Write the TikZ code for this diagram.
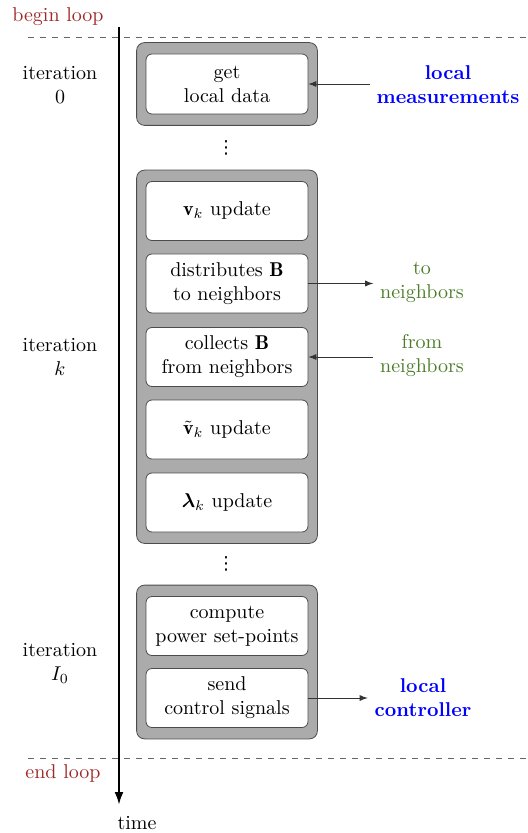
\documentclass[tikz,border=0pt]{standalone}
\usepackage{amsmath}
\usepackage{amssymb}
\usepackage{bm}
\usepackage{fontspec}
\newfontfamily\symfont{DejaVu Sans}
\usetikzlibrary{calc}
\usetikzlibrary{fit}
\usetikzlibrary{backgrounds}
\usetikzlibrary{arrows.meta}
\tikzset{>=latex}
\definecolor{loopred}{RGB}{160,40,40}
\definecolor{nbgreen}{RGB}{75,125,40}
\tikzset{task/.style = {shape=rectangle,rounded corners=3pt,draw=black!70,fill=white,minimum width=81pt,minimum height=29.5pt,align=center,inner sep=1pt}}
\tikzset{phase/.style = {shape=rectangle,rounded corners=4pt,draw=black!70,fill=black!33,inner xsep=4.5pt,inner ysep=5.5pt}}
\tikzset{iter/.style = {align=center}}
\tikzset{ext/.style = {align=center,text=blue,font=\bfseries}}
\tikzset{nb/.style = {align=center,text=nbgreen}}
\tikzset{gap/.style = {font=\symfont\small,inner sep=0pt}}
\tikzset{link/.style = {->,> = latex,black!80}}

\begin{document}
\begin{tikzpicture}[x=0.5pt,y=-0.5pt]
            \useasboundingbox (0,0) rectangle (528,833);

            % Time axis and loop limits
            \coordinate (ttop) at (119,27);
            \coordinate (tbot) at (119,805);
            \node (time) at (137,823) {time};
            \draw[line width=1.2pt,-{Latex[length=6.5pt,width=4.5pt]}] (ttop) -- (tbot);

            \node[text=loopred] (beginl) at (58,17) {begin loop};
            \node[text=loopred] (endl) at (63,773) {end loop};
            \coordinate (d0l) at (28,37);
            \coordinate (d0r) at (528,37);
            \coordinate (d1l) at (28,758);
            \coordinate (d1r) at (528,758);
            \draw[dashed,black!60] (d0l) -- (d0r);
            \draw[dashed,black!60] (d1l) -- (d1r);

            % Iterations
            \node[iter] (it0) at (60,85) {iteration\\$0$};
            \node[iter] (itk) at (60,357) {iteration\\$k$};
            \node[iter] (itI) at (60,663) {iteration\\$I_0$};

            % Tasks
            \node[task,minimum height=30pt] (ld) at (227,84) {get\\local data};
            \node[gap] (dots0) at (226,148) {⋮};

            \node[task] (vup) at (227,211) {$\mathbf{v}_k$ update};
            \node[task] (dist) at (227,283.5) {distributes $\mathbf{B}$\\to neighbors};
            \node[task] (coll) at (227,357) {collects $\mathbf{B}$\\from neighbors};
            \node[task] (vtup) at (227,429.5) {$\tilde{\mathbf{v}}_k$ update};
            \node[task] (lup) at (227,502.5) {$\bm{\lambda}_k$ update};
            \node[gap] (dots1) at (226,564) {⋮};

            \node[task] (comp) at (227,626) {compute\\power set-points};
            \node[task] (send) at (227,698) {send\\control signals};

            % Phases
            \begin{scope}[on background layer]
                \node[phase,fit=(ld)] (p0) {};
                \node[phase,fit=(vup) (lup)] (pk) {};
                \node[phase,fit=(comp) (send)] (pI) {};
            \end{scope}

            % Outside
            \node[ext] (meas) at (448,85) {local\\measurements};
            \node[nb] (tonb) at (422,282) {to\\neighbors};
            \node[nb] (fromnb) at (422,356) {from\\neighbors};
            \node[ext] (ctrl) at (423,698) {local\\controller};

            % Edges
            \draw[link] (ld.east -| meas.west) -- (ld.east);
            \draw[link] (dist.east) -- (dist.east -| tonb.west);
            \draw[link] (coll.east -| fromnb.west) -- (coll.east);
            \draw[link] (send.east) -- (send.east -| ctrl.west);
        \end{tikzpicture}
\end{document}
